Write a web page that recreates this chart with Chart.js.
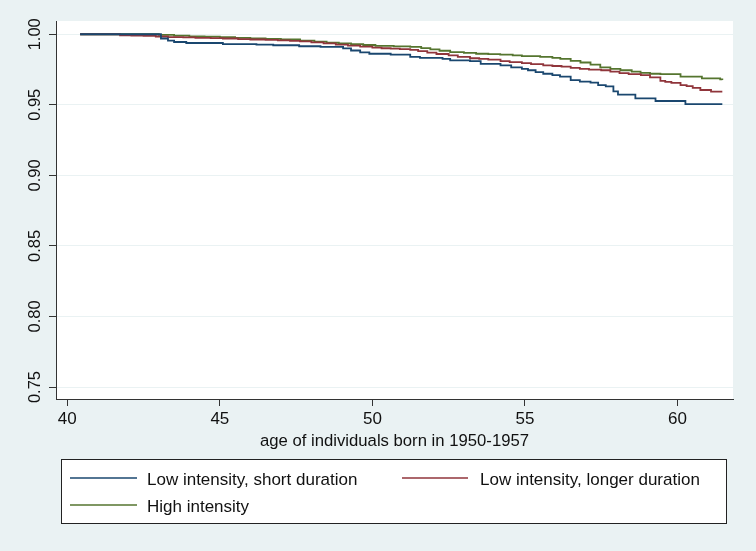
<!DOCTYPE html>
<html>
<head>
<meta charset="utf-8">
<script src="https://cdn.jsdelivr.net/npm/chart.js@4.4.1/dist/chart.umd.min.js"></script>
<style>
  html, body { margin: 0; padding: 0; background: #eaf2f3; }
  #wrap { width: 756px; height: 551px; position: relative; }
</style>
</head>
<body>
<div id="wrap"><canvas id="kmGrafik" width="756" height="551"></canvas></div>
<script>
// Kaplan-Meier survival
const xTicks = [40, 45, 50, 55, 60];
const yTicks = [0.75, 0.80, 0.85, 0.90, 0.95, 1.00];

const seriesLabels = [
  "Low intensity, short duration",
  "Low intensity, longer duration",
  "High intensity"
];

const blueAge = [40.42, 43.07, 43.3, 43.5, 43.9, 45.1, 46.2, 46.75, 47.6, 48.3, 49.04, 49.3, 49.6, 49.9, 50.6, 51.24, 51.56, 52.3, 52.55, 53.2, 53.55, 54.2, 54.55, 54.9, 55.1, 55.35, 55.6, 55.9, 56.15, 56.5, 56.8, 57.15, 57.4, 57.65, 57.9, 58.05, 58.62, 59.28, 60.26, 61.47];
const blueSurv = [1.0, 0.997, 0.9955, 0.9945, 0.9938, 0.993, 0.9926, 0.9922, 0.9915, 0.991, 0.990, 0.9885, 0.9872, 0.9862, 0.9855, 0.984, 0.9833, 0.9825, 0.9815, 0.981, 0.979, 0.978, 0.9765, 0.9755, 0.9745, 0.9732, 0.972, 0.971, 0.970, 0.9675, 0.9665, 0.9657, 0.964, 0.963, 0.9595, 0.9572, 0.9545, 0.9527, 0.9505, 0.9505];

const redAge = [40.42, 41.73, 42.1, 42.5, 42.9, 43.3, 43.8, 44.2, 44.7, 45.1, 45.6, 46.0, 46.5, 46.9, 47.3, 47.63, 48.0, 48.4, 48.8, 49.2, 49.6, 50.0, 50.3, 50.6, 50.9, 51.24, 51.5, 51.8, 52.1, 52.5, 52.8, 53.2, 53.5, 53.8, 54.2, 54.5, 54.9, 55.2, 55.6, 55.9, 56.2, 56.5, 56.8, 57.1, 57.5, 57.8, 58.1, 58.4, 58.8, 59.1, 59.44, 59.6, 59.8, 60.1, 60.3, 60.5, 60.75, 61.1, 61.47];
const redSurv = [1.0, 0.9993, 0.9991, 0.9988, 0.9984, 0.998, 0.9978, 0.9975, 0.9973, 0.997, 0.9966, 0.9963, 0.996, 0.9957, 0.9953, 0.995, 0.9943, 0.9935, 0.9927, 0.992, 0.9912, 0.9905, 0.9901, 0.9898, 0.9894, 0.989, 0.988, 0.987, 0.986, 0.985, 0.984, 0.983, 0.9825, 0.982, 0.981, 0.9803, 0.9795, 0.9788, 0.978, 0.9775, 0.977, 0.9762, 0.9755, 0.975, 0.9745, 0.9735, 0.9725, 0.9718, 0.971, 0.9695, 0.967, 0.9662, 0.9655, 0.964, 0.9632, 0.962, 0.9605, 0.9593, 0.9593];

const greenAge = [40.42, 43.0, 43.5, 44.0, 44.5, 45.0, 45.5, 46.0, 46.5, 47.0, 47.63, 48.1, 48.5, 48.9, 49.3, 49.7, 50.1, 50.7, 51.24, 51.6, 51.9, 52.2, 52.55, 53.0, 53.4, 53.8, 54.19, 54.6, 54.9, 55.5, 55.9, 56.16, 56.5, 56.82, 57.15, 57.47, 57.8, 58.13, 58.5, 58.79, 59.1, 59.44, 60.1, 60.8, 61.4, 61.47];
const greenSurv = [1.0, 0.9995, 0.999, 0.9985, 0.9983, 0.998, 0.9975, 0.997, 0.9967, 0.9963, 0.9955, 0.9948, 0.994, 0.9935, 0.993, 0.9924, 0.9918, 0.9914, 0.991, 0.9902, 0.9893, 0.9883, 0.9873, 0.9868, 0.9862, 0.9859, 0.9856, 0.985, 0.9845, 0.984, 0.9833, 0.9825, 0.9812, 0.980, 0.9785, 0.9766, 0.9755, 0.9745, 0.9735, 0.9726, 0.972, 0.9717, 0.970, 0.9688, 0.968, 0.9675];

const seriesColors = ["#1a476f", "#90353b", "#55752f"];
const fontFamily = "'Liberation Sans', Arial, Helvetica, sans-serif";

function toPoints(ages, surv) {
  return ages.map((a, i) => ({ x: a, y: surv[i] }));
}

// Stata style: grey graph region, white plot region
const bgPlugin = {
  id: "bgPlugin",
  beforeDraw(chart) {
    const { ctx, chartArea } = chart;
    ctx.save();
    ctx.fillStyle = "#eaf2f3";
    ctx.fillRect(0, 0, chart.width, chart.height);
    ctx.fillStyle = "#ffffff";
    ctx.fillRect(chartArea.left, chartArea.top, chartArea.right - chartArea.left, chartArea.bottom - chartArea.top);
    ctx.restore();
  }
};

// Legend box under the axis title (two columns)
const legendPlugin = {
  id: "legendPlugin",
  afterDraw(chart) {
    const ctx = chart.ctx;
    const box = { x: 61, y: 459, w: 665, h: 64 };
    const slots = [
      { x1: 70, x2: 137, y: 478, tx: 147 },
      { x1: 402, x2: 468, y: 478, tx: 480 },
      { x1: 70, x2: 137, y: 505, tx: 147 }
    ];
    ctx.save();
    ctx.fillStyle = "#ffffff";
    ctx.fillRect(box.x, box.y, box.w, box.h);
    ctx.strokeStyle = "#222";
    ctx.lineWidth = 1;
    ctx.strokeRect(box.x + 0.5, box.y + 0.5, box.w, box.h);
    chart.data.datasets.forEach((ds, i) => {
      const s = slots[i];
      ctx.strokeStyle = ds.borderColor;
      ctx.lineWidth = 1.6;
      ctx.beginPath();
      ctx.moveTo(s.x1, s.y);
      ctx.lineTo(s.x2, s.y);
      ctx.stroke();
      ctx.fillStyle = "#111";
      ctx.font = "17px " + fontFamily;
      ctx.textBaseline = "middle";
      ctx.textAlign = "left";
      ctx.fillText(ds.label, s.tx, s.y + 2);
    });
    ctx.restore();
  }
};

const ctx = document.getElementById("kmGrafik").getContext("2d");

new Chart(ctx, {
  type: "line",
  data: {
    datasets: [
      { label: seriesLabels[0], data: toPoints(blueAge, blueSurv), borderColor: seriesColors[0] },
      { label: seriesLabels[1], data: toPoints(redAge, redSurv), borderColor: seriesColors[1] },
      { label: seriesLabels[2], data: toPoints(greenAge, greenSurv), borderColor: seriesColors[2] }
    ].map((d) => ({ ...d, stepped: true, borderWidth: 1.8, pointRadius: 0, fill: false }))
  },
  options: {
    responsive: false,
    animation: false,
    layout: { padding: { left: 0, top: 21, right: 23, bottom: 100 } },
    plugins: {
      legend: { display: false },
      tooltip: { enabled: false }
    },
    scales: {
      x: {
        type: "linear",
        min: 39.63,
        max: 61.82,
        afterBuildTicks: (scale) => { scale.ticks = xTicks.map((v) => ({ value: v })); },
        afterFit: (scale) => { scale.height = 52; },
        ticks: {
          color: "#111",
          font: { family: fontFamily, size: 17 },
          padding: 3,
          maxRotation: 0,
          callback: (v) => String(v)
        },
        grid: { drawOnChartArea: false, drawTicks: true, tickLength: 7, tickColor: "#333", tickWidth: 1 },
        border: { display: true, color: "#333", width: 1 },
        title: {
          display: true,
          text: "age of individuals born in 1950-1957",
          color: "#111",
          font: { family: fontFamily, size: 16.7 },
          padding: { top: 0, bottom: 0 }
        }
      },
      y: {
        type: "linear",
        min: 0.7415,
        max: 1.0094,
        afterBuildTicks: (scale) => { scale.ticks = yTicks.map((v) => ({ value: v })); },
        afterFit: (scale) => { scale.width = 56; },
        ticks: {
          color: "#111",
          font: { family: fontFamily, size: 16.5 },
          minRotation: 90,
          maxRotation: 90,
          crossAlign: "center",
          padding: -3,
          callback: (v) => Number(v).toFixed(2)
        },
        grid: { color: "#eaf2f3", lineWidth: 1, drawTicks: true, tickLength: 7, tickColor: "#333", tickWidth: 1 },
        border: { display: true, color: "#333", width: 1 }
      }
    }
  },
  plugins: [bgPlugin, legendPlugin]
});
</script>
</body>
</html>
